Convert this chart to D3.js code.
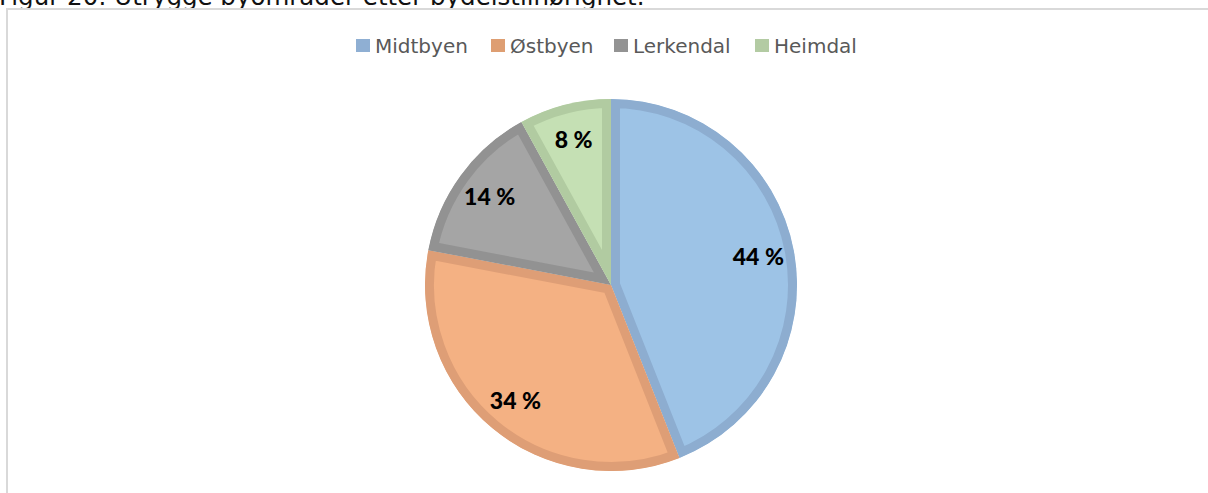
<!DOCTYPE html>
<html>
<head>
<meta charset="utf-8">
<style>
  body { margin: 0; background: #fff; }
  svg { display: block; }
</style>
</head>
<body>
<svg width="1208" height="493"></svg>
<script src="https://d3js.org/d3.v7.min.js"></script>
<script>
// data
var categories = ["Midtbyen", "Østbyen", "Lerkendal", "Heimdal"];
var values = [44, 34, 14, 8];
var fills = ["#9DC3E6", "#F4B183", "#A5A5A5", "#C5E0B4"];
var strokes = ["#8DADD0", "#DE9E76", "#929292", "#B1CBA1"];
var swatches = ["#8FAFD3", "#DE9E72", "#939393", "#B3CBA3"];
var title = "Figur 20: Utrygge byområder etter bydelstilhørighet.";

var svg = d3.select("svg"),
    cx = 611, cy = 285, radius = 186;

svg.append("text")
    .attr("x", -1)
    .attr("y", 5)
    .attr("font-family", "DejaVu Sans, Verdana, sans-serif")
    .attr("font-size", 24.5)
    .attr("fill", "#111")
    .text(title);

// chart frame
svg.append("rect")
    .attr("x", 7)
    .attr("y", 9)
    .attr("width", 1220)
    .attr("height", 500)
    .attr("fill", "#fff")
    .attr("stroke", "#D9D9D9")
    .attr("stroke-width", 2);

// legend
var legendX = [356, 491, 614, 755];
var legend = svg.append("g")
    .attr("font-family", "DejaVu Sans, Verdana, sans-serif")
    .attr("font-size", 20)
    .attr("fill", "#595959")
  .selectAll("g")
  .data(categories)
  .enter().append("g")
    .attr("transform", function(d, i) { return "translate(" + legendX[i] + ",39)"; });
legend.append("rect")
    .attr("width", 14)
    .attr("height", 13)
    .attr("fill", function(d, i) { return swatches[i]; });
legend.append("text")
    .attr("x", 19)
    .attr("y", 13.5)
    .text(function(d) { return d; });

// pie
var pie = d3.pie().sort(null).value(function(d) { return d; });
var arcs = pie(values);
var arc = d3.arc().innerRadius(0).outerRadius(radius);
var labelArc = d3.arc().innerRadius(150).outerRadius(150);

var g = svg.append("g").attr("transform", "translate(" + cx + "," + cy + ")");
var defs = svg.append("defs");
defs.selectAll("clipPath")
  .data(arcs)
  .enter().append("clipPath")
    .attr("id", function(d, i) { return "clip" + i; })
  .append("path")
    .attr("d", arc);

g.selectAll("path.slice")
  .data(arcs)
  .enter().append("path")
    .attr("class", "slice")
    .attr("d", arc)
    .attr("clip-path", function(d, i) { return "url(#clip" + i + ")"; })
    .attr("fill", function(d, i) { return fills[i]; })
    .attr("stroke", function(d, i) { return strokes[i]; })
    .attr("stroke-width", 18)
    .attr("stroke-linejoin", "miter");

g.selectAll("text.lbl")
  .data(arcs)
  .enter().append("text")
    .attr("class", "lbl")
    .attr("transform", function(d) { return "translate(" + labelArc.centroid(d) + ")"; })
    .attr("text-anchor", "middle")
    .attr("dy", "0.35em")
    .attr("font-family", "Lato, Carlito, sans-serif")
    .attr("font-weight", 900)
    .attr("font-size", 23)
    .attr("fill", "#000")
    .text(function(d) { return d.data + " %"; });
</script>
</body>
</html>
